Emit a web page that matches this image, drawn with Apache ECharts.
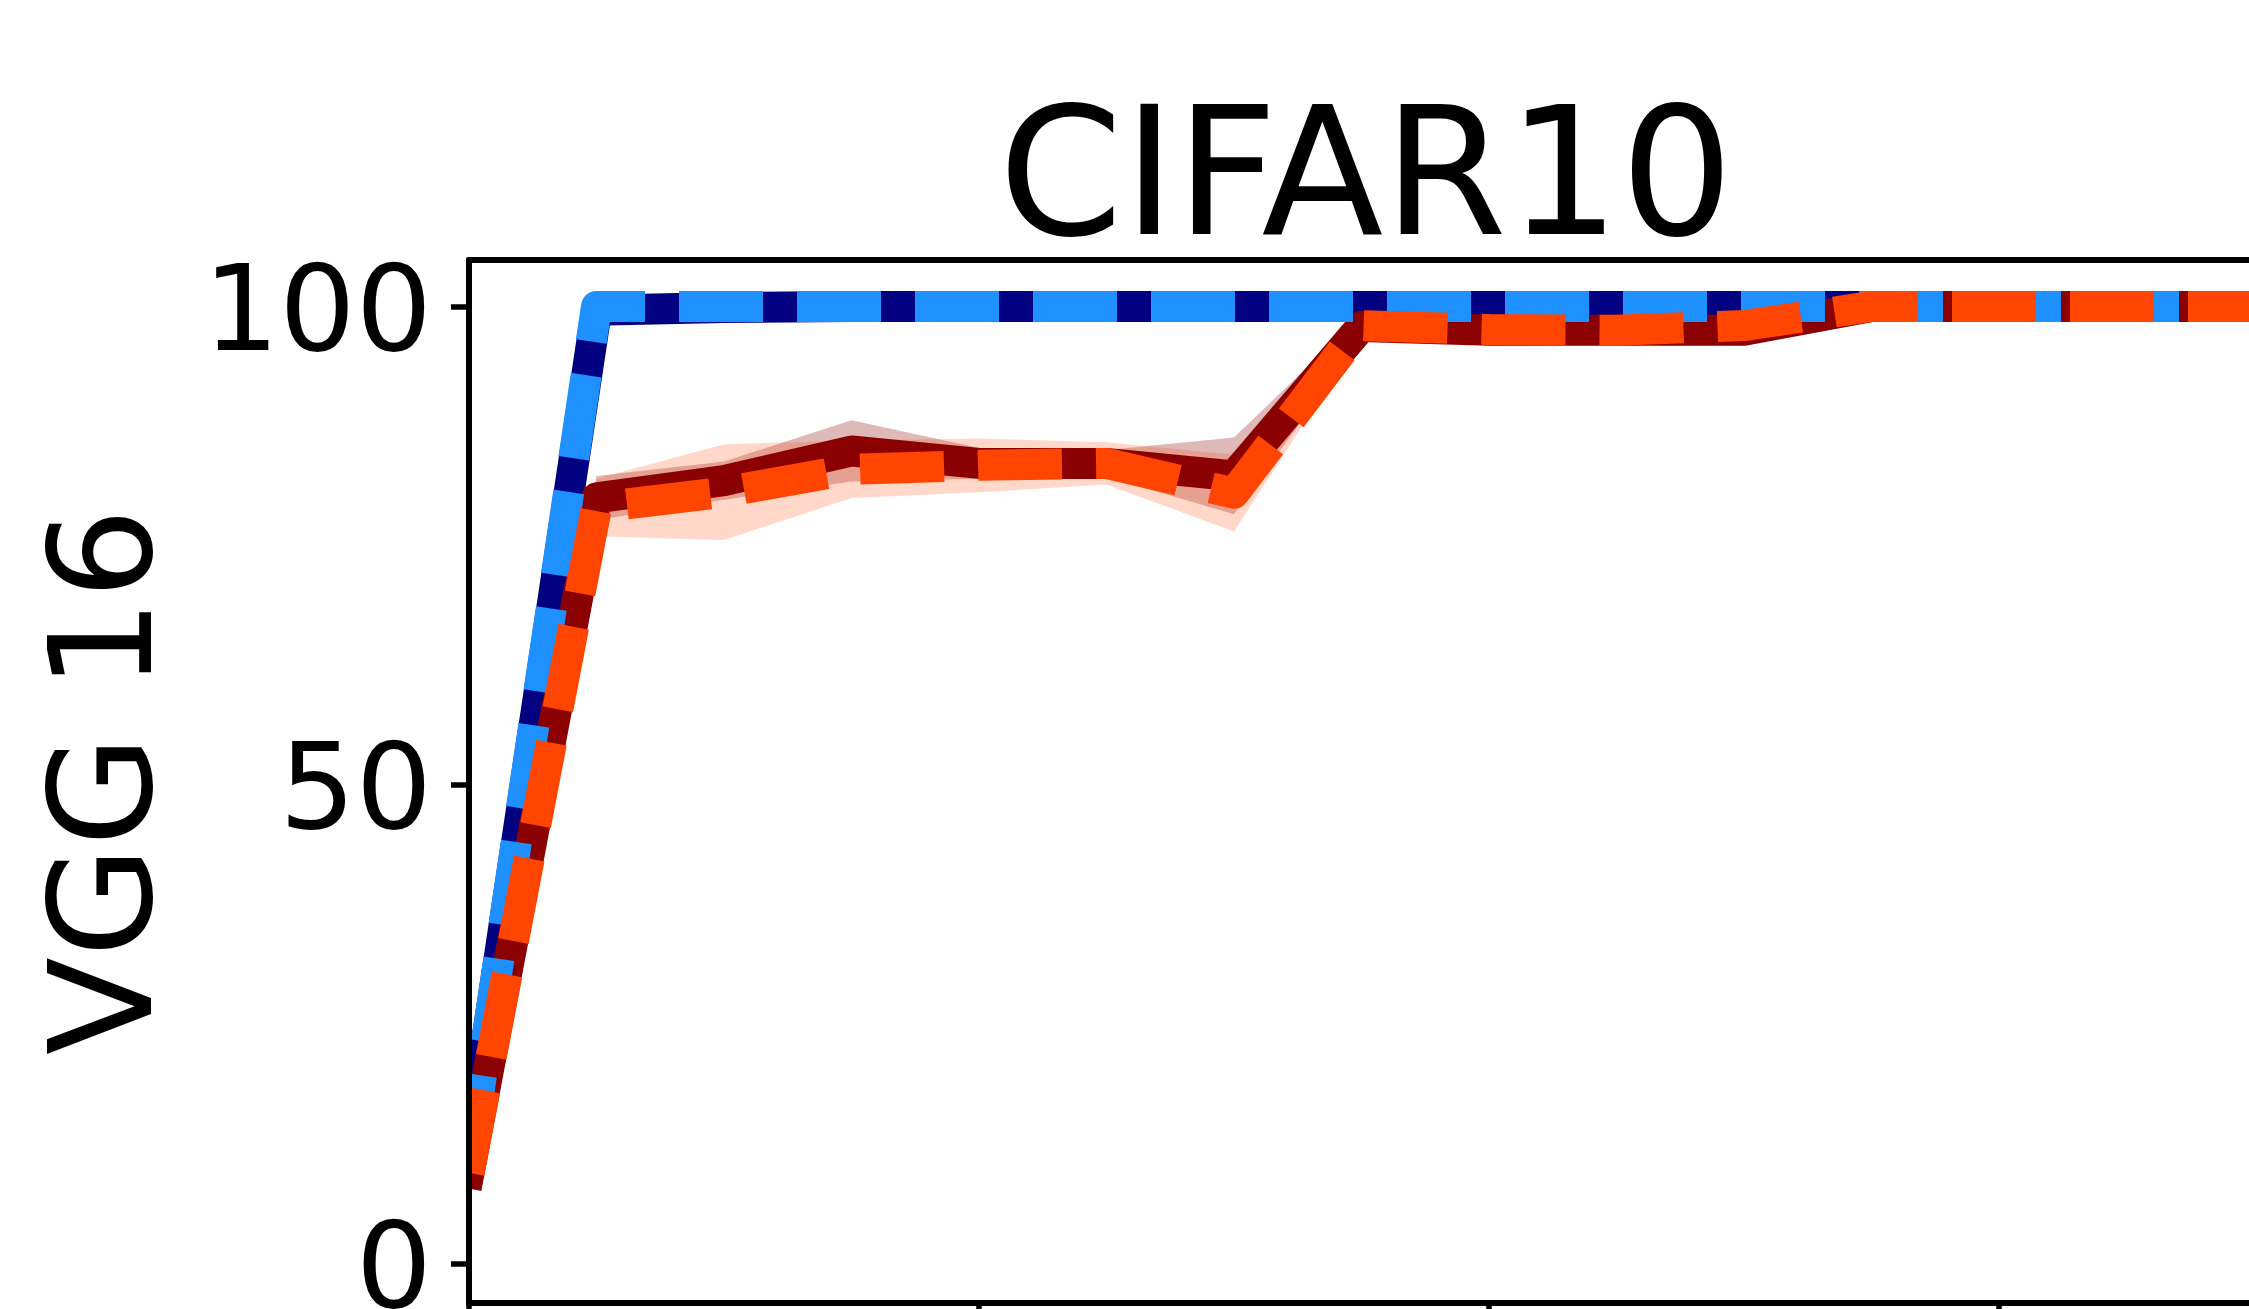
<!DOCTYPE html>
<html><head><meta charset="utf-8">
<script src="https://cdn.jsdelivr.net/npm/echarts@6/dist/echarts.min.js"></script>
<style>html,body{margin:0;padding:0;background:#fff}#c{width:2249px;height:1309px}</style>
</head><body><div id="c"></div>
<script>
// ---- data ----
const epochs = ['0','1','2','3','4','5','6','7','8','9','10','11','12','13','14'];
const yTicks = [0, 50, 100];
const navyMean       = [11, 99.6, 99.9, 100, 100, 100, 100, 100, 100, 100, 100, 100, 100, 100, 100];
const dodgerblueMean = [11, 100, 100, 100, 100, 100, 100, 100, 100, 100, 100, 100, 100, 100, 100];
const darkredMean    = [9.5, 80.0, 81.8, 84.9, 83.6, 83.6, 82.3, 97.9, 97.5, 97.5, 97.5, 100, 100, 100, 100];
const darkredStd     = [0.5, 2.3, 2.0, 3.2, 1.6, 1.4, 4.0, 1.2, 0.4, 0.4, 0.4, 0, 0, 0, 0];
const orangeMean     = [9.5, 79.0, 80.6, 83.0, 83.4, 83.6, 80.5, 98.0, 97.6, 97.5, 98.0, 100, 100, 100, 100];
const orangeStd      = [0.5, 3.0, 5.0, 3.0, 2.8, 2.2, 4.0, 1.0, 0.4, 0.4, 0.4, 0, 0, 0, 0];

const FONT = 'DejaVu Sans';
const LW = 31;
const DASH = [84, 34];

function bandSeries(name, mean, std, color) {
  const lower = mean.map((m, i) => m - std[i]);
  const span = std.map(s => 2 * s);
  return [
    { name: name + ' lower', type: 'line', data: lower, stack: name, symbol: 'none', silent: true,
      lineStyle: { opacity: 0, width: 1 } },
    { name: name + ' band', type: 'line', data: span, stack: name, symbol: 'none', silent: true,
      lineStyle: { opacity: 0, width: 1 }, areaStyle: { color: color, opacity: 1 } }
  ];
}
function lineSeries(name, data, color, dashed) {
  return { name: name, type: 'line', data: data, symbol: 'none', silent: true,
    lineStyle: { color: color, width: LW, type: dashed ? DASH : 'solid',
      cap: dashed ? 'butt' : 'square', join: 'round' } };
}

const chart = echarts.init(document.getElementById('c'), null, { renderer: 'canvas' });
chart.setOption({
  animation: false,
  backgroundColor: '#fff',
  title: {
    text: 'CIFAR10', left: 1361, top: 94, textAlign: 'center',
    textStyle: { fontFamily: FONT, fontSize: 178, fontWeight: 'normal', color: '#000', lineHeight: 178 }
  },
  grid: { left: 469, top: 260, width: 1785, height: 1043, outerBoundsMode: 'none', containLabel: false },
  xAxis: [
    { type: 'category', data: epochs, boundaryGap: false, z: 10,
      axisLine: { onZero: false, lineStyle: { color: '#000', width: 6 } },
      axisTick: { show: true, interval: 3, length: 20, lineStyle: { color: '#000', width: 5.5 } },
      axisLabel: { show: false }, splitLine: { show: false } },
    { type: 'category', data: epochs, boundaryGap: false, position: 'top', z: 10,
      axisLine: { onZero: false, lineStyle: { color: '#000', width: 6 } },
      axisTick: { show: false }, axisLabel: { show: false }, splitLine: { show: false } }
  ],
  yAxis: {
    type: 'value', min: -4.1, max: 104.85, z: 10,
    name: 'VGG 16', nameLocation: 'middle', nameRotate: 90, nameGap: 284,
    nameTextStyle: { fontFamily: FONT, fontSize: 143, color: '#000' },
    axisLine: { show: true, onZero: false, lineStyle: { color: '#000', width: 6 } },
    axisTick: { show: true, customValues: yTicks, length: 18, lineStyle: { color: '#000', width: 5.5 } },
    axisLabel: { customValues: yTicks, margin: 37, formatter: '{v|{value}}',
      rich: { v: { fontFamily: FONT, fontSize: 120, color: '#000', padding: [24, 0, 0, 0] } } },
    splitLine: { show: false }
  },
  graphic: [
    { type: 'rect', z: 5, shape: { x: 425, y: 900, width: 41, height: 330 }, style: { fill: '#fff' } }
  ],
  series: [
    ...bandSeries('darkred', darkredMean, darkredStd, 'rgba(139,0,0,0.28)'),
    ...bandSeries('orangered', orangeMean, orangeStd, 'rgba(255,69,0,0.21)'),
    lineSeries('navy', navyMean, '#000080', false),
    lineSeries('darkred', darkredMean, '#8B0000', false),
    lineSeries('dodgerblue', dodgerblueMean, '#1E90FF', true),
    lineSeries('orangered', orangeMean, '#FF4500', true)
  ]
});
</script></body></html>
